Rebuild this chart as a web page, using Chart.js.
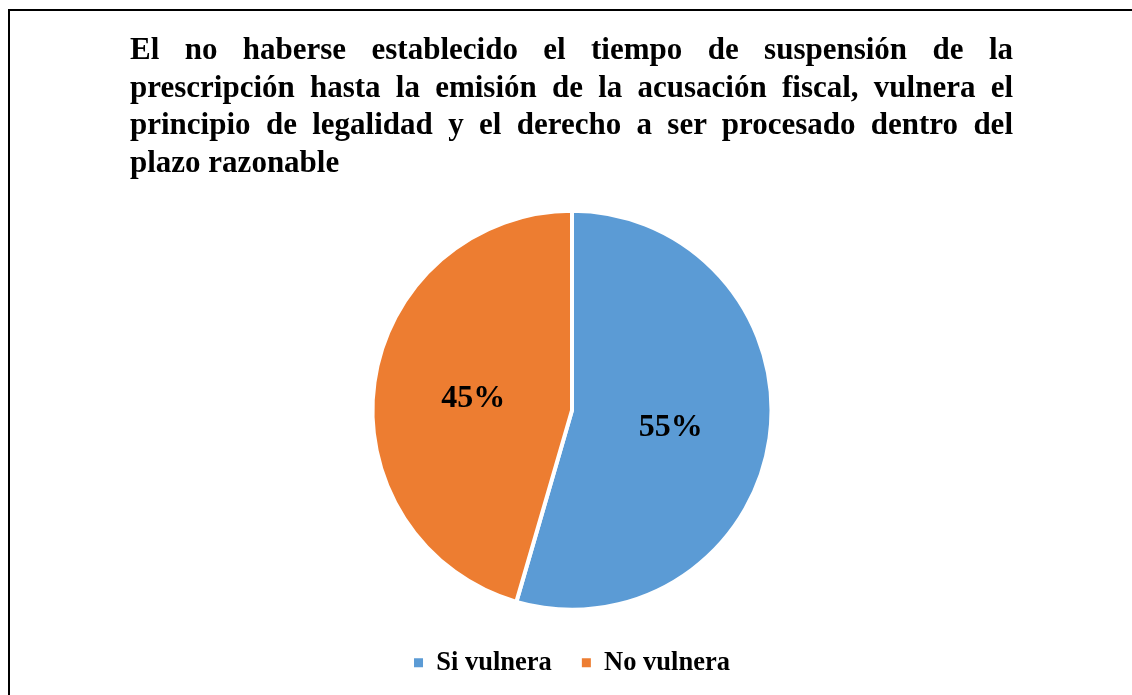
<!DOCTYPE html>
<html>
<head>
<meta charset="utf-8">
<script src="https://cdn.jsdelivr.net/npm/chart.js@4"></script>
<style>
  html, body { margin: 0; padding: 0; background: #fff; }
  #wrap { position: relative; width: 1132px; height: 695px; overflow: hidden; }
  #frame { position: absolute; left: 8px; top: 9px; right: -10px; bottom: -10px;
           border-left: 2px solid #000; border-top: 2px solid #000; }
  #title { position: absolute; left: 130px; top: 30px; width: 883px;
           font: bold 31px "Liberation Serif", "Times New Roman", serif; line-height: 37.5px; color: #000; }
  #title div { text-align: justify; text-align-last: justify; white-space: nowrap; }
  #title div.last { text-align-last: left; }
  #chart { position: absolute; left: 0; top: 0; }
</style>
</head>
<body>
<div id="wrap">
  <div id="frame"></div>
  <canvas id="chart" width="1132" height="695"></canvas>
  <div id="title"></div>
</div>
<script>
// Chart data
const titleLines = [
  'El no haberse establecido el tiempo de suspensión de la',
  'prescripción hasta la emisión de la acusación fiscal, vulnera el',
  'principio de legalidad y el derecho a ser procesado dentro del',
  'plazo razonable'
];
const categories = ['Si vulnera', 'No vulnera'];
const shares = [54.5, 45.5];           // slice sizes
const shareLabels = ['55%', '45%'];    // printed labels
const sliceColors = ['#5B9BD5', '#ED7D31'];

// Title (justified lines, like the original)
const titleBox = document.getElementById('title');
titleLines.forEach((line, i) => {
  const d = document.createElement('div');
  d.textContent = line;
  if (i === titleLines.length - 1) d.className = 'last';
  else d.style.whiteSpace = 'normal';
  titleBox.appendChild(d);
});

// Percent labels in the middle of each slice
const sliceLabels = {
  id: 'sliceLabels',
  afterDatasetsDraw(chart) {
    const ctx = chart.ctx;
    const meta = chart.getDatasetMeta(0);
    ctx.save();
    ctx.font = 'bold 32px "Liberation Serif", "Times New Roman", serif';
    ctx.fillStyle = '#000';
    ctx.textAlign = 'center';
    ctx.textBaseline = 'middle';
    meta.data.forEach((arc, i) => {
      const p = arc.getCenterPoint();
      ctx.fillText(shareLabels[i], p.x, p.y + 3);
    });
    ctx.restore();
  }
};

new Chart(document.getElementById('chart').getContext('2d'), {
  type: 'pie',
  data: {
    labels: categories,
    datasets: [{
      data: shares,
      backgroundColor: sliceColors,
      borderColor: '#fff',
      borderWidth: 4,
      radius: 199.5
    }]
  },
  options: {
    responsive: false,
    animation: false,
    layout: { padding: { top: 201, left: 12, right: 0, bottom: 9 } },
    plugins: {
      title: { display: false },
      tooltip: { enabled: false },
      legend: {
        position: 'bottom',
        labels: {
          boxWidth: 9,
          boxHeight: 9,
          padding: 30,
          color: '#000',
          font: { family: '"Liberation Serif", "Times New Roman", serif', size: 26.5, weight: 'bold' },
          generateLabels(chart) {
            return categories.map((c, i) => ({
              text: c,
              fillStyle: sliceColors[i],
              strokeStyle: sliceColors[i],
              lineWidth: 0,
              fontColor: '#000',
              hidden: false,
              index: i
            }));
          }
        }
      }
    }
  },
  plugins: [sliceLabels]
});
</script>
</body>
</html>
